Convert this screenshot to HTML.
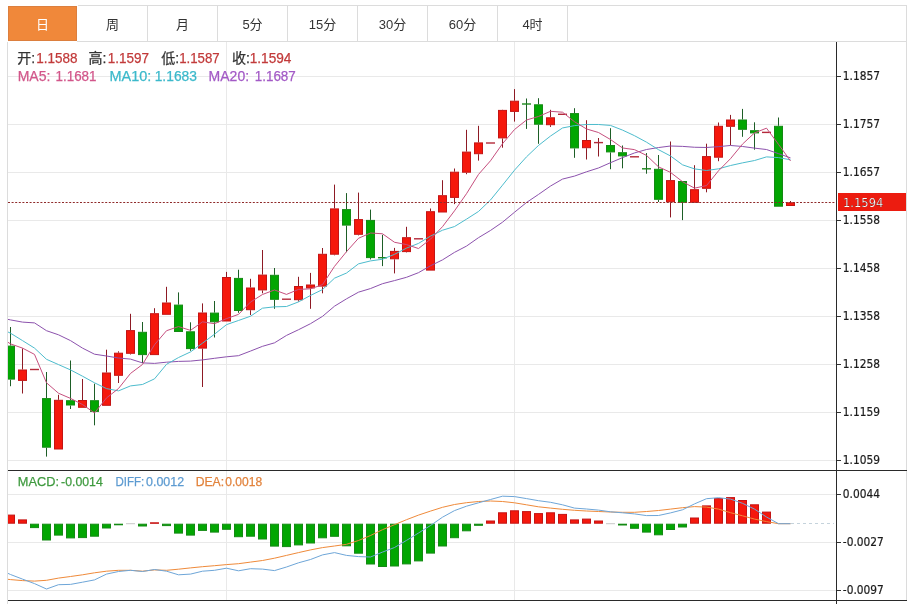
<!DOCTYPE html>
<html><head><meta charset="utf-8"><title>K线图</title>
<style>
html,body{margin:0;padding:0;background:#fff;width:913px;height:604px;overflow:hidden}
svg{display:block}
text{font-family:"Liberation Sans","Noto Sans CJK SC",sans-serif}
.tab{font-size:13px;fill:#333;text-anchor:middle}
.ax{font-family:"DejaVu Sans Condensed","DejaVu Sans",sans-serif;font-stretch:condensed;font-size:12.8px;fill:#1a1a1a;stroke:#1a1a1a;stroke-width:0.2}
.lb{font-size:13.5px;fill:#333}
.val{font-size:13.5px;fill:#c33b3b}
.m{font-size:13.5px}
.md{font-size:12.5px}
</style></head><body>
<svg width="913" height="604" viewBox="0 0 913 604">
<defs>
<clipPath id="cm"><rect x="8" y="42" width="828" height="428"/></clipPath>
<clipPath id="cd"><rect x="8" y="471" width="828" height="129"/></clipPath>
</defs>
<!-- frame -->
<rect x="78" y="5" width="829" height="1" fill="#dcdcdc"/>
<rect x="77" y="41" width="830" height="1" fill="#dcdcdc"/>
<rect x="7" y="42" width="1" height="562" fill="#dcdcdc"/>
<rect x="906" y="5" width="1" height="596" fill="#dcdcdc"/>
<!-- tabs -->
<rect x="8.5" y="6.5" width="68" height="34" fill="#f0883a" stroke="#dc7f3e" stroke-width="1"/>
<rect x="147" y="6" width="1" height="35" fill="#dcdcdc"/>
<rect x="217" y="6" width="1" height="35" fill="#dcdcdc"/>
<rect x="287" y="6" width="1" height="35" fill="#dcdcdc"/>
<rect x="357" y="6" width="1" height="35" fill="#dcdcdc"/>
<rect x="427" y="6" width="1" height="35" fill="#dcdcdc"/>
<rect x="497" y="6" width="1" height="35" fill="#dcdcdc"/>
<rect x="567" y="6" width="1" height="35" fill="#dcdcdc"/>
<text x="42.5" y="29" class="tab" style="fill:#fff">日</text>
<text x="112.5" y="29" class="tab">周</text>
<text x="182.5" y="29" class="tab">月</text>
<text x="252.5" y="29" class="tab">5分</text>
<text x="322.5" y="29" class="tab">15分</text>
<text x="392.5" y="29" class="tab">30分</text>
<text x="462.5" y="29" class="tab">60分</text>
<text x="532.5" y="29" class="tab">4时</text>
<!-- grid -->
<rect x="8" y="76" width="828" height="1" fill="#e9e9e9"/>
<rect x="8" y="124" width="828" height="1" fill="#e9e9e9"/>
<rect x="8" y="172" width="828" height="1" fill="#e9e9e9"/>
<rect x="8" y="220" width="828" height="1" fill="#e9e9e9"/>
<rect x="8" y="268" width="828" height="1" fill="#e9e9e9"/>
<rect x="8" y="316" width="828" height="1" fill="#e9e9e9"/>
<rect x="8" y="364" width="828" height="1" fill="#e9e9e9"/>
<rect x="8" y="412" width="828" height="1" fill="#e9e9e9"/>
<rect x="8" y="460" width="828" height="1" fill="#e9e9e9"/>
<rect x="8" y="494" width="828" height="1" fill="#e9e9e9"/>
<rect x="8" y="542" width="828" height="1" fill="#e9e9e9"/>
<rect x="8" y="590" width="828" height="1" fill="#e9e9e9"/>
<rect x="226" y="42" width="1" height="428" fill="#e9e9e9"/>
<rect x="226" y="471" width="1" height="129" fill="#e9e9e9"/>
<rect x="514" y="42" width="1" height="428" fill="#e9e9e9"/>
<rect x="514" y="471" width="1" height="129" fill="#e9e9e9"/>
<!-- chart -->
<g clip-path="url(#cm)">
<rect x="10" y="327" width="1" height="18.6" fill="#1d5e26"/>
<rect x="10" y="379.6" width="1" height="6.6" fill="#1d5e26"/>
<rect x="6.5" y="346.1" width="8" height="33" fill="#02a602" stroke="#148a14" stroke-width="1"/>
<rect x="22" y="348.4" width="1" height="21.1" fill="#8e1a24"/>
<rect x="22" y="380.9" width="1" height="12.6" fill="#8e1a24"/>
<rect x="18.5" y="370" width="8" height="10.4" fill="#f5180c" stroke="#c41414" stroke-width="1"/>
<rect x="30" y="368.8" width="9" height="1.4" fill="#b42a3a"/>
<rect x="46" y="372" width="1" height="26.1" fill="#1d5e26"/>
<rect x="46" y="447.7" width="1" height="8.9" fill="#1d5e26"/>
<rect x="42.5" y="398.6" width="8" height="48.6" fill="#02a602" stroke="#148a14" stroke-width="1"/>
<rect x="58" y="394.8" width="1" height="5" fill="#8e1a24"/>
<rect x="54.5" y="400.3" width="8" height="48.7" fill="#f5180c" stroke="#c41414" stroke-width="1"/>
<rect x="70" y="360.5" width="1" height="39.7" fill="#1d5e26"/>
<rect x="70" y="405.5" width="1" height="3.5" fill="#1d5e26"/>
<rect x="66.5" y="400.7" width="8" height="4.3" fill="#02a602" stroke="#148a14" stroke-width="1"/>
<rect x="82" y="379" width="1" height="21" fill="#8e1a24"/>
<rect x="78.5" y="400.5" width="8" height="6.8" fill="#f5180c" stroke="#c41414" stroke-width="1"/>
<rect x="94" y="383.7" width="1" height="16.5" fill="#1d5e26"/>
<rect x="94" y="411.9" width="1" height="13.4" fill="#1d5e26"/>
<rect x="90.5" y="400.7" width="8" height="10.7" fill="#02a602" stroke="#148a14" stroke-width="1"/>
<rect x="106" y="349.7" width="1" height="22.8" fill="#8e1a24"/>
<rect x="102.5" y="373" width="8" height="32.3" fill="#f5180c" stroke="#c41414" stroke-width="1"/>
<rect x="118" y="351.3" width="1" height="1.4" fill="#8e1a24"/>
<rect x="118" y="375.8" width="1" height="7.2" fill="#8e1a24"/>
<rect x="114.5" y="353.2" width="8" height="22.1" fill="#f5180c" stroke="#c41414" stroke-width="1"/>
<rect x="130" y="313.8" width="1" height="16.3" fill="#8e1a24"/>
<rect x="130" y="353.8" width="1" height="0.7" fill="#8e1a24"/>
<rect x="126.5" y="330.6" width="8" height="22.7" fill="#f5180c" stroke="#c41414" stroke-width="1"/>
<rect x="142" y="322" width="1" height="9.8" fill="#1d5e26"/>
<rect x="142" y="355.1" width="1" height="7.9" fill="#1d5e26"/>
<rect x="138.5" y="332.3" width="8" height="22.3" fill="#02a602" stroke="#148a14" stroke-width="1"/>
<rect x="154" y="308.2" width="1" height="5" fill="#8e1a24"/>
<rect x="150.5" y="313.7" width="8" height="40.9" fill="#f5180c" stroke="#c41414" stroke-width="1"/>
<rect x="166" y="286.8" width="1" height="15.7" fill="#8e1a24"/>
<rect x="162.5" y="303" width="8" height="11.3" fill="#f5180c" stroke="#c41414" stroke-width="1"/>
<rect x="178" y="292.4" width="1" height="12.2" fill="#1d5e26"/>
<rect x="174.5" y="305.1" width="8" height="26.4" fill="#02a602" stroke="#148a14" stroke-width="1"/>
<rect x="190" y="322.3" width="1" height="9" fill="#1d5e26"/>
<rect x="190" y="349.1" width="1" height="1.7" fill="#1d5e26"/>
<rect x="186.5" y="331.8" width="8" height="16.8" fill="#02a602" stroke="#148a14" stroke-width="1"/>
<rect x="202" y="303.4" width="1" height="9.1" fill="#8e1a24"/>
<rect x="202" y="348.6" width="1" height="38.4" fill="#8e1a24"/>
<rect x="198.5" y="313" width="8" height="35.1" fill="#f5180c" stroke="#c41414" stroke-width="1"/>
<rect x="214" y="301" width="1" height="11.6" fill="#1d5e26"/>
<rect x="214" y="322.3" width="1" height="15.2" fill="#1d5e26"/>
<rect x="210.5" y="313.1" width="8" height="8.7" fill="#02a602" stroke="#148a14" stroke-width="1"/>
<rect x="226" y="271.9" width="1" height="5.1" fill="#8e1a24"/>
<rect x="222.5" y="277.5" width="8" height="43.5" fill="#f5180c" stroke="#c41414" stroke-width="1"/>
<rect x="238" y="269.7" width="1" height="8.2" fill="#1d5e26"/>
<rect x="238" y="311" width="1" height="1.8" fill="#1d5e26"/>
<rect x="234.5" y="278.4" width="8" height="32.1" fill="#02a602" stroke="#148a14" stroke-width="1"/>
<rect x="250" y="278.8" width="1" height="8.7" fill="#8e1a24"/>
<rect x="250" y="310.2" width="1" height="4.8" fill="#8e1a24"/>
<rect x="246.5" y="288" width="8" height="21.7" fill="#f5180c" stroke="#c41414" stroke-width="1"/>
<rect x="262" y="250" width="1" height="24.6" fill="#8e1a24"/>
<rect x="262" y="290.4" width="1" height="2.9" fill="#8e1a24"/>
<rect x="258.5" y="275.1" width="8" height="14.8" fill="#f5180c" stroke="#c41414" stroke-width="1"/>
<rect x="274" y="268" width="1" height="6.8" fill="#1d5e26"/>
<rect x="274" y="299.8" width="1" height="9" fill="#1d5e26"/>
<rect x="270.5" y="275.3" width="8" height="24" fill="#02a602" stroke="#148a14" stroke-width="1"/>
<rect x="282" y="298.5" width="9" height="1.4" fill="#b42a3a"/>
<rect x="298" y="276.8" width="1" height="9.2" fill="#8e1a24"/>
<rect x="298" y="300.2" width="1" height="1.4" fill="#8e1a24"/>
<rect x="294.5" y="286.5" width="8" height="13.2" fill="#f5180c" stroke="#c41414" stroke-width="1"/>
<rect x="310" y="272.9" width="1" height="11.6" fill="#8e1a24"/>
<rect x="310" y="288.4" width="1" height="20.4" fill="#8e1a24"/>
<rect x="306.5" y="285" width="8" height="2.9" fill="#f5180c" stroke="#c41414" stroke-width="1"/>
<rect x="322" y="248" width="1" height="5.8" fill="#8e1a24"/>
<rect x="322" y="286.6" width="1" height="6.7" fill="#8e1a24"/>
<rect x="318.5" y="254.3" width="8" height="31.8" fill="#f5180c" stroke="#c41414" stroke-width="1"/>
<rect x="334" y="184.6" width="1" height="23.8" fill="#8e1a24"/>
<rect x="334" y="254.7" width="1" height="0.6" fill="#8e1a24"/>
<rect x="330.5" y="208.9" width="8" height="45.3" fill="#f5180c" stroke="#c41414" stroke-width="1"/>
<rect x="346" y="193.1" width="1" height="16" fill="#1d5e26"/>
<rect x="346" y="225.6" width="1" height="26.6" fill="#1d5e26"/>
<rect x="342.5" y="209.6" width="8" height="15.5" fill="#02a602" stroke="#148a14" stroke-width="1"/>
<rect x="358" y="192.6" width="1" height="26.5" fill="#8e1a24"/>
<rect x="358" y="234.8" width="1" height="0.6" fill="#8e1a24"/>
<rect x="354.5" y="219.6" width="8" height="14.7" fill="#f5180c" stroke="#c41414" stroke-width="1"/>
<rect x="370" y="209.6" width="1" height="10.3" fill="#1d5e26"/>
<rect x="370" y="258.1" width="1" height="1.3" fill="#1d5e26"/>
<rect x="366.5" y="220.4" width="8" height="37.2" fill="#02a602" stroke="#148a14" stroke-width="1"/>
<rect x="382" y="234.8" width="1" height="31.3" fill="#1d5e26"/>
<rect x="378" y="257" width="9" height="1.4" fill="#1e8a1e"/>
<rect x="394" y="247.9" width="1" height="3" fill="#8e1a24"/>
<rect x="394" y="259.3" width="1" height="14.1" fill="#8e1a24"/>
<rect x="390.5" y="251.4" width="8" height="7.4" fill="#f5180c" stroke="#c41414" stroke-width="1"/>
<rect x="406" y="226.8" width="1" height="10.4" fill="#8e1a24"/>
<rect x="406" y="252.1" width="1" height="0.4" fill="#8e1a24"/>
<rect x="402.5" y="237.7" width="8" height="13.9" fill="#f5180c" stroke="#c41414" stroke-width="1"/>
<rect x="414" y="238.1" width="9" height="1.4" fill="#b42a3a"/>
<rect x="430" y="208.5" width="1" height="2.7" fill="#8e1a24"/>
<rect x="426.5" y="211.7" width="8" height="58.4" fill="#f5180c" stroke="#c41414" stroke-width="1"/>
<rect x="442" y="180.2" width="1" height="15" fill="#8e1a24"/>
<rect x="438.5" y="195.7" width="8" height="16.3" fill="#f5180c" stroke="#c41414" stroke-width="1"/>
<rect x="454" y="168.5" width="1" height="3.2" fill="#8e1a24"/>
<rect x="454" y="197.9" width="1" height="6.2" fill="#8e1a24"/>
<rect x="450.5" y="172.2" width="8" height="25.2" fill="#f5180c" stroke="#c41414" stroke-width="1"/>
<rect x="466" y="129.8" width="1" height="21.8" fill="#8e1a24"/>
<rect x="466" y="172.7" width="1" height="1.5" fill="#8e1a24"/>
<rect x="462.5" y="152.1" width="8" height="20.1" fill="#f5180c" stroke="#c41414" stroke-width="1"/>
<rect x="478" y="125.8" width="1" height="16.6" fill="#8e1a24"/>
<rect x="478" y="154.2" width="1" height="6.4" fill="#8e1a24"/>
<rect x="474.5" y="142.9" width="8" height="10.8" fill="#f5180c" stroke="#c41414" stroke-width="1"/>
<rect x="486" y="142.3" width="9" height="1.4" fill="#b42a3a"/>
<rect x="502" y="109.7" width="1" height="0.2" fill="#8e1a24"/>
<rect x="502" y="138.4" width="1" height="9.3" fill="#8e1a24"/>
<rect x="498.5" y="110.4" width="8" height="27.5" fill="#f5180c" stroke="#c41414" stroke-width="1"/>
<rect x="514" y="89.1" width="1" height="11.6" fill="#8e1a24"/>
<rect x="514" y="111.9" width="1" height="9.7" fill="#8e1a24"/>
<rect x="510.5" y="101.2" width="8" height="10.2" fill="#f5180c" stroke="#c41414" stroke-width="1"/>
<rect x="526" y="98.5" width="1" height="30.4" fill="#1d5e26"/>
<rect x="522" y="103.3" width="9" height="1.4" fill="#1e8a1e"/>
<rect x="538" y="98.2" width="1" height="6.1" fill="#1d5e26"/>
<rect x="538" y="124.7" width="1" height="19.1" fill="#1d5e26"/>
<rect x="534.5" y="104.8" width="8" height="19.4" fill="#02a602" stroke="#148a14" stroke-width="1"/>
<rect x="550" y="109.8" width="1" height="7.5" fill="#8e1a24"/>
<rect x="550" y="125.2" width="1" height="1.7" fill="#8e1a24"/>
<rect x="546.5" y="117.8" width="8" height="6.9" fill="#f5180c" stroke="#c41414" stroke-width="1"/>
<rect x="558" y="113.6" width="9" height="1.4" fill="#b42a3a"/>
<rect x="574" y="108.2" width="1" height="4.9" fill="#1d5e26"/>
<rect x="574" y="148.4" width="1" height="9.4" fill="#1d5e26"/>
<rect x="570.5" y="113.6" width="8" height="34.3" fill="#02a602" stroke="#148a14" stroke-width="1"/>
<rect x="586" y="120.2" width="1" height="19.8" fill="#8e1a24"/>
<rect x="586" y="148.2" width="1" height="11.3" fill="#8e1a24"/>
<rect x="582.5" y="140.5" width="8" height="7.2" fill="#f5180c" stroke="#c41414" stroke-width="1"/>
<rect x="598" y="138" width="1" height="18.5" fill="#8e1a24"/>
<rect x="594" y="141.9" width="9" height="1.4" fill="#b42a3a"/>
<rect x="610" y="128.2" width="1" height="16.8" fill="#1d5e26"/>
<rect x="610" y="152.4" width="1" height="16.8" fill="#1d5e26"/>
<rect x="606.5" y="145.5" width="8" height="6.4" fill="#02a602" stroke="#148a14" stroke-width="1"/>
<rect x="622" y="145.5" width="1" height="6.7" fill="#1d5e26"/>
<rect x="622" y="156.4" width="1" height="11.9" fill="#1d5e26"/>
<rect x="618.5" y="152.7" width="8" height="3.2" fill="#02a602" stroke="#148a14" stroke-width="1"/>
<rect x="630" y="156.1" width="9" height="1.4" fill="#b42a3a"/>
<rect x="646" y="153.1" width="1" height="20.6" fill="#1d5e26"/>
<rect x="642" y="168.1" width="9" height="1.4" fill="#1e8a1e"/>
<rect x="658" y="155" width="1" height="13.8" fill="#1d5e26"/>
<rect x="658" y="199.8" width="1" height="2.2" fill="#1d5e26"/>
<rect x="654.5" y="169.3" width="8" height="30" fill="#02a602" stroke="#148a14" stroke-width="1"/>
<rect x="670" y="141.5" width="1" height="38.6" fill="#8e1a24"/>
<rect x="670" y="202.3" width="1" height="15.1" fill="#8e1a24"/>
<rect x="666.5" y="180.6" width="8" height="21.2" fill="#f5180c" stroke="#c41414" stroke-width="1"/>
<rect x="682" y="202.8" width="1" height="17.3" fill="#1d5e26"/>
<rect x="678.5" y="181.5" width="8" height="20.8" fill="#02a602" stroke="#148a14" stroke-width="1"/>
<rect x="694" y="165.2" width="1" height="24" fill="#8e1a24"/>
<rect x="690.5" y="189.7" width="8" height="12.6" fill="#f5180c" stroke="#c41414" stroke-width="1"/>
<rect x="706" y="143.7" width="1" height="12.4" fill="#8e1a24"/>
<rect x="706" y="188.8" width="1" height="3.5" fill="#8e1a24"/>
<rect x="702.5" y="156.6" width="8" height="31.7" fill="#f5180c" stroke="#c41414" stroke-width="1"/>
<rect x="718" y="122.5" width="1" height="3.3" fill="#8e1a24"/>
<rect x="718" y="157.7" width="1" height="3.5" fill="#8e1a24"/>
<rect x="714.5" y="126.3" width="8" height="30.9" fill="#f5180c" stroke="#c41414" stroke-width="1"/>
<rect x="730" y="114.9" width="1" height="4.6" fill="#8e1a24"/>
<rect x="730" y="126.8" width="1" height="18.5" fill="#8e1a24"/>
<rect x="726.5" y="120" width="8" height="6.3" fill="#f5180c" stroke="#c41414" stroke-width="1"/>
<rect x="742" y="108.9" width="1" height="10.6" fill="#1d5e26"/>
<rect x="742" y="129.8" width="1" height="7" fill="#1d5e26"/>
<rect x="738.5" y="120" width="8" height="9.3" fill="#02a602" stroke="#148a14" stroke-width="1"/>
<rect x="754" y="122.3" width="1" height="7.9" fill="#1d5e26"/>
<rect x="754" y="133.4" width="1" height="16.3" fill="#1d5e26"/>
<rect x="750.5" y="130.7" width="8" height="2.2" fill="#02a602" stroke="#148a14" stroke-width="1"/>
<rect x="762" y="131.7" width="9" height="1.4" fill="#b42a3a"/>
<rect x="778" y="117.5" width="1" height="8.3" fill="#1d5e26"/>
<rect x="774.5" y="126.3" width="8" height="79.9" fill="#02a602" stroke="#148a14" stroke-width="1"/>
<rect x="790" y="201" width="1" height="1.3" fill="#8e1a24"/>
<rect x="786.5" y="202.8" width="8" height="2.7" fill="#f5180c" stroke="#c41414" stroke-width="1"/>
</g>
<polyline points="-1.5,317.5 10.5,319.9 22.5,322.1 34.5,322.9 46.5,330.7 58.5,334.8 70.5,340.6 82.5,348.1 94.5,354.2 106.5,356 118.5,358 130.5,359.1 142.5,362.9 154.5,363.4 166.5,362.2 178.5,361.4 190.5,361.1 202.5,359.9 214.5,358.3 226.5,356.8 238.5,355.68 250.5,351.07 262.5,346.32 274.5,342.84 286.5,335.42 298.5,329.73 310.5,323.68 322.5,316.37 334.5,306.19 346.5,298.84 358.5,292.17 370.5,288.56 382.5,283.69 394.5,280.58 406.5,277.31 418.5,272.66 430.5,265.76 442.5,259.89 454.5,252.37 466.5,246.09 478.5,237.67 490.5,230.44 502.5,222.21 514.5,212.25 526.5,202.49 538.5,194.43 550.5,186.06 562.5,179.09 574.5,176.09 586.5,171.81 598.5,167.98 610.5,162.7 622.5,157.63 634.5,152.93 646.5,149.51 658.5,147.56 670.5,146 682.5,146.38 694.5,147.26 706.5,147.48 718.5,146.66 730.5,145.48 742.5,146.47 754.5,148.11 766.5,149.53 778.5,153.63 790.5,157.88" fill="none" stroke="#8c52ad" stroke-width="1" stroke-linejoin="round" clip-path="url(#cm)"/>
<polyline points="-1.5,327.4 10.5,333.2 22.5,340.6 34.5,348.1 46.5,359.3 58.5,364.6 70.5,369.9 82.5,376.2 94.5,382.8 106.5,388.6 118.5,390.87 130.5,385.92 142.5,384.48 154.5,378.85 166.5,364.33 178.5,357.55 190.5,351.91 202.5,343.16 214.5,334.2 226.5,324.65 238.5,320.48 250.5,316.22 262.5,308.17 274.5,306.83 286.5,306.5 298.5,301.9 310.5,295.44 322.5,289.57 334.5,278.18 346.5,273.04 358.5,263.85 370.5,260.91 382.5,259.22 394.5,254.33 406.5,248.13 418.5,243.41 430.5,236.08 442.5,230.22 454.5,226.55 466.5,219.15 478.5,211.48 490.5,199.97 502.5,185.19 514.5,170.17 526.5,156.85 538.5,145.44 550.5,136.05 562.5,127.96 574.5,125.63 586.5,124.47 598.5,124.49 610.5,125.43 622.5,130.08 634.5,135.69 646.5,142.17 658.5,149.68 670.5,155.96 682.5,164.81 694.5,168.89 706.5,170.5 718.5,168.82 730.5,165.53 742.5,162.87 754.5,160.53 766.5,156.89 778.5,157.58 790.5,159.8" fill="none" stroke="#4dbccd" stroke-width="1" stroke-linejoin="round" clip-path="url(#cm)"/>
<polyline points="-1.5,336.2 10.5,343.9 22.5,348.1 34.5,354.4 46.5,382.8 58.5,393.22 70.5,398.4 82.5,404.5 94.5,412.98 106.5,397.94 118.5,388.52 130.5,373.44 142.5,364.46 154.5,344.72 166.5,330.72 178.5,326.58 190.5,330.38 202.5,321.86 214.5,323.68 226.5,318.58 238.5,314.38 250.5,302.06 262.5,294.48 274.5,289.98 286.5,294.42 298.5,289.42 310.5,288.82 322.5,284.66 334.5,266.38 346.5,251.66 358.5,238.28 370.5,233 382.5,233.78 394.5,242.28 406.5,244.6 418.5,248.54 430.5,239.16 442.5,226.66 454.5,210.82 466.5,193.7 478.5,174.42 490.5,160.78 502.5,143.72 514.5,129.52 526.5,120 538.5,116.46 550.5,111.32 562.5,112.2 574.5,121.74 586.5,128.94 598.5,132.52 610.5,139.54 622.5,147.96 634.5,149.64 646.5,155.4 658.5,166.84 670.5,172.38 682.5,181.66 694.5,188.14 706.5,185.6 718.5,170.8 730.5,158.68 742.5,144.08 754.5,132.92 766.5,128.18 778.5,144.36 790.5,160.92" fill="none" stroke="#c64f7e" stroke-width="1" stroke-linejoin="round" clip-path="url(#cm)"/>
<g clip-path="url(#cd)">
<rect x="6.5" y="515.1" width="8" height="8.1" fill="#f5180c" stroke="#c41414" stroke-width="1"/>
<rect x="18.5" y="519.9" width="8" height="3.3" fill="#f5180c" stroke="#c41414" stroke-width="1"/>
<rect x="30.5" y="524.2" width="8" height="3.4" fill="#02a602" stroke="#148a14" stroke-width="1"/>
<rect x="42.5" y="524.2" width="8" height="15.8" fill="#02a602" stroke="#148a14" stroke-width="1"/>
<rect x="54.5" y="524.2" width="8" height="10.9" fill="#02a602" stroke="#148a14" stroke-width="1"/>
<rect x="66.5" y="524.2" width="8" height="13.7" fill="#02a602" stroke="#148a14" stroke-width="1"/>
<rect x="78.5" y="524.2" width="8" height="13.4" fill="#02a602" stroke="#148a14" stroke-width="1"/>
<rect x="90.5" y="524.2" width="8" height="12" fill="#02a602" stroke="#148a14" stroke-width="1"/>
<rect x="102.5" y="524.2" width="8" height="3.8" fill="#02a602" stroke="#148a14" stroke-width="1"/>
<rect x="114.5" y="524.2" width="8" height="0.6" fill="#02a602" stroke="#148a14" stroke-width="1"/>
<rect x="126" y="523.2" width="9" height="1" fill="#c8c8c8"/>
<rect x="138.5" y="524.2" width="8" height="1.8" fill="#02a602" stroke="#148a14" stroke-width="1"/>
<rect x="150.5" y="522.8" width="8" height="0.5" fill="#f5180c" stroke="#c41414" stroke-width="1"/>
<rect x="162.5" y="524.2" width="8" height="1.4" fill="#02a602" stroke="#148a14" stroke-width="1"/>
<rect x="174.5" y="524.2" width="8" height="8.9" fill="#02a602" stroke="#148a14" stroke-width="1"/>
<rect x="186.5" y="524.2" width="8" height="10.9" fill="#02a602" stroke="#148a14" stroke-width="1"/>
<rect x="198.5" y="524.2" width="8" height="6.2" fill="#02a602" stroke="#148a14" stroke-width="1"/>
<rect x="210.5" y="524.2" width="8" height="7.9" fill="#02a602" stroke="#148a14" stroke-width="1"/>
<rect x="222.5" y="524.2" width="8" height="5.1" fill="#02a602" stroke="#148a14" stroke-width="1"/>
<rect x="234.5" y="524.2" width="8" height="12.5" fill="#02a602" stroke="#148a14" stroke-width="1"/>
<rect x="246.5" y="524.2" width="8" height="12" fill="#02a602" stroke="#148a14" stroke-width="1"/>
<rect x="258.5" y="524.2" width="8" height="14.8" fill="#02a602" stroke="#148a14" stroke-width="1"/>
<rect x="270.5" y="524.2" width="8" height="21.9" fill="#02a602" stroke="#148a14" stroke-width="1"/>
<rect x="282.5" y="524.2" width="8" height="22.4" fill="#02a602" stroke="#148a14" stroke-width="1"/>
<rect x="294.5" y="524.2" width="8" height="20.7" fill="#02a602" stroke="#148a14" stroke-width="1"/>
<rect x="306.5" y="524.2" width="8" height="18.8" fill="#02a602" stroke="#148a14" stroke-width="1"/>
<rect x="318.5" y="524.2" width="8" height="13.6" fill="#02a602" stroke="#148a14" stroke-width="1"/>
<rect x="330.5" y="524.2" width="8" height="12.1" fill="#02a602" stroke="#148a14" stroke-width="1"/>
<rect x="342.5" y="524.2" width="8" height="21.6" fill="#02a602" stroke="#148a14" stroke-width="1"/>
<rect x="354.5" y="524.2" width="8" height="29" fill="#02a602" stroke="#148a14" stroke-width="1"/>
<rect x="366.5" y="524.2" width="8" height="39.8" fill="#02a602" stroke="#148a14" stroke-width="1"/>
<rect x="378.5" y="524.2" width="8" height="42.3" fill="#02a602" stroke="#148a14" stroke-width="1"/>
<rect x="390.5" y="524.2" width="8" height="41.8" fill="#02a602" stroke="#148a14" stroke-width="1"/>
<rect x="402.5" y="524.2" width="8" height="39.7" fill="#02a602" stroke="#148a14" stroke-width="1"/>
<rect x="414.5" y="524.2" width="8" height="36.7" fill="#02a602" stroke="#148a14" stroke-width="1"/>
<rect x="426.5" y="524.2" width="8" height="28.9" fill="#02a602" stroke="#148a14" stroke-width="1"/>
<rect x="438.5" y="524.2" width="8" height="21.8" fill="#02a602" stroke="#148a14" stroke-width="1"/>
<rect x="450.5" y="524.2" width="8" height="13.5" fill="#02a602" stroke="#148a14" stroke-width="1"/>
<rect x="462.5" y="524.2" width="8" height="6.6" fill="#02a602" stroke="#148a14" stroke-width="1"/>
<rect x="474.5" y="524.2" width="8" height="1.1" fill="#02a602" stroke="#148a14" stroke-width="1"/>
<rect x="486.5" y="521" width="8" height="2.2" fill="#f5180c" stroke="#c41414" stroke-width="1"/>
<rect x="498.5" y="512.8" width="8" height="10.4" fill="#f5180c" stroke="#c41414" stroke-width="1"/>
<rect x="510.5" y="510.8" width="8" height="12.4" fill="#f5180c" stroke="#c41414" stroke-width="1"/>
<rect x="522.5" y="511.6" width="8" height="11.6" fill="#f5180c" stroke="#c41414" stroke-width="1"/>
<rect x="534.5" y="513.6" width="8" height="9.6" fill="#f5180c" stroke="#c41414" stroke-width="1"/>
<rect x="546.5" y="512.8" width="8" height="10.4" fill="#f5180c" stroke="#c41414" stroke-width="1"/>
<rect x="558.5" y="514.4" width="8" height="8.8" fill="#f5180c" stroke="#c41414" stroke-width="1"/>
<rect x="570.5" y="519.9" width="8" height="3.3" fill="#f5180c" stroke="#c41414" stroke-width="1"/>
<rect x="582.5" y="519.1" width="8" height="4.1" fill="#f5180c" stroke="#c41414" stroke-width="1"/>
<rect x="594.5" y="521" width="8" height="2.2" fill="#f5180c" stroke="#c41414" stroke-width="1"/>
<rect x="606" y="523.2" width="9" height="1" fill="#c8c8c8"/>
<rect x="618.5" y="524.2" width="8" height="0.8" fill="#02a602" stroke="#148a14" stroke-width="1"/>
<rect x="630.5" y="524.2" width="8" height="4.1" fill="#02a602" stroke="#148a14" stroke-width="1"/>
<rect x="642.5" y="524.2" width="8" height="7.9" fill="#02a602" stroke="#148a14" stroke-width="1"/>
<rect x="654.5" y="524.2" width="8" height="10.6" fill="#02a602" stroke="#148a14" stroke-width="1"/>
<rect x="666.5" y="524.2" width="8" height="5.3" fill="#02a602" stroke="#148a14" stroke-width="1"/>
<rect x="678.5" y="524.2" width="8" height="2.8" fill="#02a602" stroke="#148a14" stroke-width="1"/>
<rect x="690.5" y="518" width="8" height="5.2" fill="#f5180c" stroke="#c41414" stroke-width="1"/>
<rect x="702.5" y="505.9" width="8" height="17.3" fill="#f5180c" stroke="#c41414" stroke-width="1"/>
<rect x="714.5" y="498.6" width="8" height="24.6" fill="#f5180c" stroke="#c41414" stroke-width="1"/>
<rect x="726.5" y="497.6" width="8" height="25.6" fill="#f5180c" stroke="#c41414" stroke-width="1"/>
<rect x="738.5" y="500.5" width="8" height="22.7" fill="#f5180c" stroke="#c41414" stroke-width="1"/>
<rect x="750.5" y="504.8" width="8" height="18.4" fill="#f5180c" stroke="#c41414" stroke-width="1"/>
<rect x="762.5" y="512.1" width="8" height="11.1" fill="#f5180c" stroke="#c41414" stroke-width="1"/>
</g>
<line x1="791" y1="523.5" x2="834" y2="523.5" stroke="#c5d3dc" stroke-width="1" stroke-dasharray="3 3"/>
<polyline points="-1.5,578.3 10.5,579.6 22.5,580.6 34.5,581.1 46.5,580.3 58.5,578.1 70.5,576.5 82.5,574.8 94.5,572.8 106.5,571.2 118.5,570.3 130.5,570.3 142.5,571.2 154.5,569.9 166.5,570.3 178.5,569.2 190.5,567.9 202.5,566.7 214.5,565.7 226.5,564.6 238.5,563.7 250.5,562.1 262.5,560.5 274.5,558.2 286.5,555.4 298.5,552.6 310.5,549.9 322.5,547.6 334.5,546 346.5,544.3 358.5,540.5 370.5,535.5 382.5,529.7 394.5,524.7 406.5,519.7 418.5,515.1 430.5,511.1 442.5,507.3 454.5,504.5 466.5,502.7 478.5,501.5 490.5,501 502.5,501.5 514.5,502.8 526.5,504.8 538.5,506.8 550.5,508.1 562.5,509.3 574.5,510.3 586.5,511 598.5,511.5 610.5,512 622.5,512.3 634.5,512.3 646.5,511.5 658.5,510.5 670.5,509.1 682.5,507.7 694.5,506.6 706.5,507.1 718.5,509.1 730.5,512.7 742.5,515.8 754.5,519.1 766.5,521.6 778.5,523.7 790.5,523.7" fill="none" stroke="#ef8a3a" stroke-width="1" stroke-linejoin="round" clip-path="url(#cd)"/>
<polyline points="-1.5,569 10.5,574.5 22.5,579.1 34.5,583.6 46.5,589 58.5,584.7 70.5,584.4 82.5,582.2 94.5,579.9 106.5,574.1 118.5,571.5 130.5,570.3 142.5,571.5 154.5,569.5 166.5,571.2 178.5,574.8 190.5,574.1 202.5,571.2 214.5,570.3 226.5,568.2 238.5,570.8 250.5,568.7 262.5,569.1 274.5,570.6 286.5,567 298.5,562.8 310.5,559.5 322.5,554.9 334.5,552.6 346.5,555.4 358.5,556.6 370.5,557 382.5,552.1 394.5,547.5 406.5,540.4 418.5,533 430.5,525.5 442.5,517.2 454.5,510.6 466.5,506.2 478.5,502.8 490.5,499.5 502.5,496.2 514.5,496.6 526.5,498.6 538.5,500.7 550.5,502.3 562.5,504.8 574.5,508.1 586.5,509 598.5,510.1 610.5,511.8 622.5,512.8 634.5,513.9 646.5,515.6 658.5,515.5 670.5,512.9 682.5,509.8 694.5,503.9 706.5,498.7 718.5,497.7 730.5,499.1 742.5,503.3 754.5,509.1 766.5,517 778.5,523.7 790.5,523.7" fill="none" stroke="#6ea6d8" stroke-width="1" stroke-linejoin="round" clip-path="url(#cd)"/>
<!-- current price line -->
<line x1="8" y1="202.5" x2="836" y2="202.5" stroke="#8f2a2a" stroke-width="1" stroke-dasharray="2 1.6"/>
<!-- axes -->
<rect x="836" y="42" width="1" height="562" fill="#2a2a2a"/>
<rect x="8" y="470" width="899" height="1" fill="#2a2a2a"/>
<rect x="8" y="600" width="899" height="1" fill="#2a2a2a"/>
<rect x="837" y="76" width="4" height="1" fill="#333"/>
<text x="842.8" y="80.1" class="ax" textLength="37.19" lengthAdjust="spacingAndGlyphs">1.1857</text>
<rect x="837" y="124" width="4" height="1" fill="#333"/>
<text x="842.8" y="128.1" class="ax" textLength="37.19" lengthAdjust="spacingAndGlyphs">1.1757</text>
<rect x="837" y="172" width="4" height="1" fill="#333"/>
<text x="842.8" y="176.1" class="ax" textLength="37.19" lengthAdjust="spacingAndGlyphs">1.1657</text>
<rect x="837" y="220" width="4" height="1" fill="#333"/>
<text x="842.8" y="224.1" class="ax" textLength="37.19" lengthAdjust="spacingAndGlyphs">1.1558</text>
<rect x="837" y="268" width="4" height="1" fill="#333"/>
<text x="842.8" y="272.1" class="ax" textLength="37.19" lengthAdjust="spacingAndGlyphs">1.1458</text>
<rect x="837" y="316" width="4" height="1" fill="#333"/>
<text x="842.8" y="320.1" class="ax" textLength="37.19" lengthAdjust="spacingAndGlyphs">1.1358</text>
<rect x="837" y="364" width="4" height="1" fill="#333"/>
<text x="842.8" y="368.1" class="ax" textLength="37.19" lengthAdjust="spacingAndGlyphs">1.1258</text>
<rect x="837" y="412" width="4" height="1" fill="#333"/>
<text x="842.8" y="416.1" class="ax" textLength="37.19" lengthAdjust="spacingAndGlyphs">1.1159</text>
<rect x="837" y="460" width="4" height="1" fill="#333"/>
<text x="842.8" y="464.1" class="ax" textLength="37.19" lengthAdjust="spacingAndGlyphs">1.1059</text>
<rect x="837" y="494" width="4" height="1" fill="#333"/>
<text x="842.8" y="498.1" class="ax" textLength="37.19" lengthAdjust="spacingAndGlyphs">0.0044</text>
<rect x="837" y="542" width="4" height="1" fill="#333"/>
<text x="842.8" y="546.1" class="ax" textLength="41.03" lengthAdjust="spacingAndGlyphs">-0.0027</text>
<rect x="837" y="590" width="4" height="1" fill="#333"/>
<text x="842.8" y="594.1" class="ax" textLength="41.03" lengthAdjust="spacingAndGlyphs">-0.0097</text>
<rect x="838" y="193" width="68" height="18" fill="#ec1c10"/>
<text x="843" y="206.5" class="ax" style="fill:#fff">1.1594</text>
<!-- legend -->
<text x="17.20" y="63" style="font-size:14px;fill:#333;stroke:#333;stroke-width:0.25">开:</text>
<text x="36.33" y="63" style="font-size:14px;fill:#c23a3a;stroke:#c23a3a;stroke-width:0.25" textLength="41.17" lengthAdjust="spacingAndGlyphs">1.1588</text>
<text x="88.60" y="63" style="font-size:14px;fill:#333;stroke:#333;stroke-width:0.25">高:</text>
<text x="107.72" y="63" style="font-size:14px;fill:#c23a3a;stroke:#c23a3a;stroke-width:0.25" textLength="41.28" lengthAdjust="spacingAndGlyphs">1.1597</text>
<text x="161.20" y="63" style="font-size:14px;fill:#333;stroke:#333;stroke-width:0.25">低:</text>
<text x="179.16" y="63" style="font-size:14px;fill:#c23a3a;stroke:#c23a3a;stroke-width:0.25" textLength="40.44" lengthAdjust="spacingAndGlyphs">1.1587</text>
<text x="232.00" y="63" style="font-size:14px;fill:#333;stroke:#333;stroke-width:0.25">收:</text>
<text x="249.70" y="63" style="font-size:14px;fill:#c23a3a;stroke:#c23a3a;stroke-width:0.25" textLength="41.70" lengthAdjust="spacingAndGlyphs">1.1594</text>
<text x="17.70" y="81" style="font-size:14px;fill:#d2568a;stroke:#d2568a;stroke-width:0.25">MA5:</text>
<text x="55.54" y="81" style="font-size:14px;fill:#d2568a;stroke:#d2568a;stroke-width:0.25" textLength="41.00" lengthAdjust="spacingAndGlyphs">1.1681</text>
<text x="109.50" y="81" style="font-size:14px;fill:#3cb9cb;stroke:#3cb9cb;stroke-width:0.25" textLength="41.82" lengthAdjust="spacingAndGlyphs">MA10:</text>
<text x="154.68" y="81" style="font-size:14px;fill:#3cb9cb;stroke:#3cb9cb;stroke-width:0.25" textLength="42.28" lengthAdjust="spacingAndGlyphs">1.1683</text>
<text x="208.60" y="81" style="font-size:14px;fill:#a35ac6;stroke:#a35ac6;stroke-width:0.25">MA20:</text>
<text x="254.73" y="81" style="font-size:14px;fill:#a35ac6;stroke:#a35ac6;stroke-width:0.25" textLength="41.07" lengthAdjust="spacingAndGlyphs">1.1687</text>
<text x="17.82" y="486" style="font-size:12.5px;fill:#3f9a3f;stroke:#3f9a3f;stroke-width:0.25" textLength="41.12" lengthAdjust="spacingAndGlyphs">MACD:</text>
<text x="61.10" y="486" style="font-size:12.5px;fill:#3f9a3f;stroke:#3f9a3f;stroke-width:0.25" textLength="41.68" lengthAdjust="spacingAndGlyphs">-0.0014</text>
<text x="115.46" y="486" style="font-size:12.5px;fill:#5d9bd1;stroke:#5d9bd1;stroke-width:0.25" textLength="28.76" lengthAdjust="spacingAndGlyphs">DIFF:</text>
<text x="146.00" y="486" style="font-size:12.5px;fill:#5d9bd1;stroke:#5d9bd1;stroke-width:0.25" textLength="38.07" lengthAdjust="spacingAndGlyphs">0.0012</text>
<text x="195.64" y="486" style="font-size:12.5px;fill:#e2833c;stroke:#e2833c;stroke-width:0.25" textLength="28.48" lengthAdjust="spacingAndGlyphs">DEA:</text>
<text x="225.30" y="486" style="font-size:12.5px;fill:#e2833c;stroke:#e2833c;stroke-width:0.25" textLength="36.80" lengthAdjust="spacingAndGlyphs">0.0018</text>
</svg>
</body></html>
